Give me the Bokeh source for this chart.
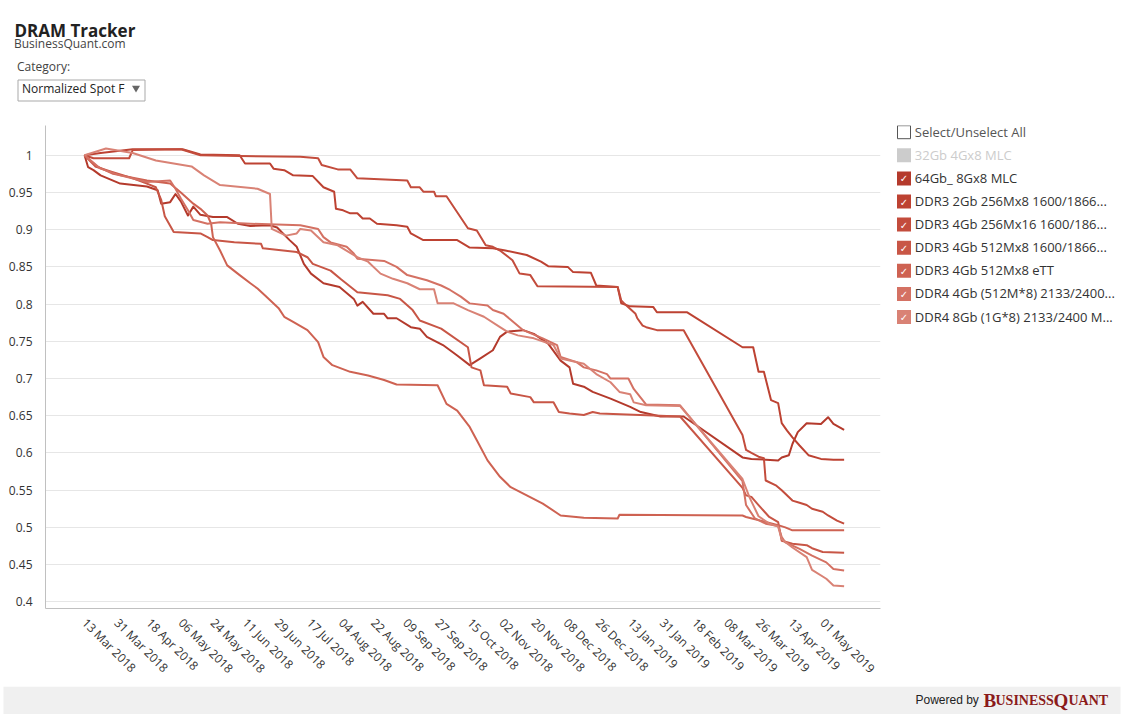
import pandas as pd
from bokeh.plotting import figure
from bokeh.layouts import column, row
from bokeh.models import (Range1d, FixedTicker, CustomJSTickFormatter,
                          NumeralTickFormatter, ColumnDataSource)
from bokeh.core.properties import value
from bokeh.embed import file_html
from bokeh.resources import INLINE

FONT = "Open Sans"

# ---------------- data ----------------
x_tick_labels = ["13 Mar 2018", "31 Mar 2018", "18 Apr 2018", "06 May 2018", "24 May 2018",
                 "11 Jun 2018", "29 Jun 2018", "17 Jul 2018", "04 Aug 2018", "22 Aug 2018",
                 "09 Sep 2018", "27 Sep 2018", "15 Oct 2018", "02 Nov 2018", "20 Nov 2018",
                 "08 Dec 2018", "26 Dec 2018", "13 Jan 2019", "31 Jan 2019", "18 Feb 2019",
                 "08 Mar 2019", "26 Mar 2019", "13 Apr 2019", "01 May 2019"]
y_ticks = [0.4, 0.45, 0.5, 0.55, 0.6, 0.65, 0.7, 0.75, 0.8, 0.85, 0.9, 0.95, 1.0]

legend_labels = ["32Gb 4Gx8 MLC", "64Gb_ 8Gx8 MLC", "DDR3 2Gb 256Mx8 1600/1866...",
                 "DDR3 4Gb 256Mx16 1600/186...", "DDR3 4Gb 512Mx8 1600/1866...",
                 "DDR3 4Gb 512Mx8 eTT", "DDR4 4Gb (512M*8) 2133/2400...",
                 "DDR4 8Gb (1G*8) 2133/2400 M..."]
legend_colors = ["#cccccc", "#b43a2c", "#bd4232", "#c34c3c", "#c85646",
                 "#ce6252", "#d47163", "#d98275"]
legend_checked = [False, True, True, True, True, True, True, True]

mlc_64gb = [
    ("2018-03-13", 1.000), ("2018-03-15", 0.984), ("2018-03-18", 0.980), ("2018-03-22", 0.973),
    ("2018-03-29", 0.966), ("2018-04-02", 0.962), ("2018-04-17", 0.958), ("2018-04-23", 0.953),
    ("2018-04-25", 0.935), ("2018-04-30", 0.937), ("2018-05-03", 0.948), ("2018-05-06", 0.938),
    ("2018-05-10", 0.919), ("2018-05-13", 0.931), ("2018-05-17", 0.920), ("2018-05-24", 0.917),
    ("2018-06-01", 0.917), ("2018-06-07", 0.908), ("2018-06-14", 0.905), ("2018-06-25", 0.906),
    ("2018-06-29", 0.903), ("2018-07-06", 0.886), ("2018-07-10", 0.877), ("2018-07-14", 0.854),
    ("2018-07-18", 0.841), ("2018-07-25", 0.828), ("2018-08-03", 0.823), ("2018-08-11", 0.807),
    ("2018-08-13", 0.798), ("2018-08-16", 0.803), ("2018-08-22", 0.787), ("2018-08-28", 0.787),
    ("2018-08-30", 0.781), ("2018-09-04", 0.781), ("2018-09-12", 0.769), ("2018-09-17", 0.767),
    ("2018-09-21", 0.756), ("2018-09-30", 0.745), ("2018-10-08", 0.731), ("2018-10-15", 0.718),
    ("2018-10-21", 0.727), ("2018-10-28", 0.738), ("2018-11-01", 0.756), ("2018-11-05", 0.763),
    ("2018-11-14", 0.765), ("2018-11-20", 0.760), ("2018-11-28", 0.747), ("2018-12-05", 0.724),
    ("2018-12-10", 0.715), ("2018-12-12", 0.693), ("2018-12-18", 0.689), ("2018-12-23", 0.682),
    ("2019-01-02", 0.673), ("2019-01-13", 0.662), ("2019-01-19", 0.655), ("2019-01-30", 0.649),
    ("2019-02-12", 0.649), ("2019-03-17", 0.594), ("2019-03-22", 0.592), ("2019-04-06", 0.590),
    ("2019-04-08", 0.594), ("2019-04-12", 0.597), ("2019-04-14", 0.612), ("2019-04-17", 0.628),
    ("2019-04-22", 0.640), ("2019-04-30", 0.639), ("2019-05-04", 0.648), ("2019-05-07", 0.639),
    ("2019-05-13", 0.631)]

ddr3_2gb_256x8 = [
    ("2018-03-13", 1.000), ("2018-03-22", 1.003), ("2018-04-09", 1.008), ("2018-05-07", 1.008),
    ("2018-05-17", 1.001), ("2018-06-08", 1.000), ("2018-06-11", 0.989), ("2018-06-25", 0.989),
    ("2018-06-27", 0.982), ("2018-07-03", 0.980), ("2018-07-08", 0.973), ("2018-07-19", 0.972),
    ("2018-07-25", 0.957), ("2018-07-31", 0.951), ("2018-08-01", 0.928), ("2018-08-05", 0.926),
    ("2018-08-09", 0.922), ("2018-08-13", 0.922), ("2018-08-16", 0.915), ("2018-08-20", 0.915),
    ("2018-08-24", 0.908), ("2018-09-04", 0.906), ("2018-09-10", 0.904), ("2018-09-12", 0.895),
    ("2018-09-19", 0.886), ("2018-10-08", 0.886), ("2018-10-15", 0.876), ("2018-10-28", 0.875),
    ("2018-11-04", 0.872), ("2018-11-16", 0.866), ("2018-11-24", 0.857), ("2018-11-28", 0.851),
    ("2018-12-09", 0.850), ("2018-12-12", 0.843), ("2018-12-22", 0.842), ("2018-12-25", 0.825),
    ("2019-01-06", 0.823), ("2019-01-08", 0.801), ("2019-01-13", 0.797), ("2019-01-26", 0.796),
    ("2019-01-28", 0.789), ("2019-02-14", 0.789), ("2019-03-17", 0.742), ("2019-03-23", 0.742),
    ("2019-03-26", 0.709), ("2019-03-29", 0.709), ("2019-04-02", 0.671), ("2019-04-06", 0.667),
    ("2019-04-08", 0.640), ("2019-04-11", 0.630), ("2019-04-14", 0.621), ("2019-04-18", 0.610),
    ("2019-04-23", 0.597), ("2019-04-30", 0.592), ("2019-05-07", 0.591), ("2019-05-13", 0.591)]

ddr3_4gb_256x16 = [
    ("2018-03-13", 1.000), ("2018-03-18", 0.996), ("2018-04-07", 0.996), ("2018-04-09", 1.007),
    ("2018-05-06", 1.008), ("2018-05-17", 1.000), ("2018-06-08", 0.999), ("2018-07-12", 0.998),
    ("2018-07-22", 0.996), ("2018-07-24", 0.987), ("2018-08-02", 0.981), ("2018-08-09", 0.981),
    ("2018-08-13", 0.969), ("2018-09-10", 0.966), ("2018-09-12", 0.957), ("2018-09-17", 0.957),
    ("2018-09-19", 0.951), ("2018-09-25", 0.951), ("2018-09-26", 0.945), ("2018-10-02", 0.945),
    ("2018-10-14", 0.902), ("2018-10-19", 0.899), ("2018-10-24", 0.879), ("2018-10-28", 0.877),
    ("2018-11-01", 0.872), ("2018-11-08", 0.859), ("2018-11-12", 0.841), ("2018-11-18", 0.839),
    ("2018-11-22", 0.824), ("2019-01-06", 0.823), ("2019-01-08", 0.805), ("2019-01-10", 0.800),
    ("2019-01-16", 0.787), ("2019-01-17", 0.781), ("2019-01-20", 0.771), ("2019-01-22", 0.769),
    ("2019-01-28", 0.765), ("2019-02-12", 0.765), ("2019-03-17", 0.624), ("2019-03-19", 0.604),
    ("2019-03-22", 0.600), ("2019-03-26", 0.595), ("2019-03-29", 0.593), ("2019-03-30", 0.563),
    ("2019-04-05", 0.556), ("2019-04-08", 0.550), ("2019-04-14", 0.536), ("2019-04-18", 0.533),
    ("2019-04-22", 0.530), ("2019-04-25", 0.525), ("2019-05-01", 0.521), ("2019-05-04", 0.516),
    ("2019-05-09", 0.509), ("2019-05-13", 0.505)]

ddr3_4gb_512x8 = [
    ("2018-03-13", 1.000), ("2018-03-19", 0.985), ("2018-03-28", 0.978), ("2018-04-08", 0.970),
    ("2018-04-17", 0.962), ("2018-04-22", 0.957), ("2018-04-25", 0.940), ("2018-04-27", 0.918),
    ("2018-05-02", 0.897), ("2018-05-17", 0.895), ("2018-05-21", 0.890), ("2018-05-24", 0.886),
    ("2018-06-05", 0.883), ("2018-06-20", 0.881), ("2018-06-21", 0.875), ("2018-07-10", 0.870),
    ("2018-07-16", 0.863), ("2018-07-19", 0.854), ("2018-07-29", 0.845), ("2018-08-04", 0.833),
    ("2018-08-13", 0.816), ("2018-08-30", 0.812), ("2018-09-06", 0.807), ("2018-09-13", 0.792),
    ("2018-09-17", 0.778), ("2018-09-29", 0.767), ("2018-10-14", 0.742), ("2018-10-16", 0.715),
    ("2018-10-21", 0.711), ("2018-10-23", 0.691), ("2018-11-05", 0.689), ("2018-11-07", 0.680),
    ("2018-11-18", 0.675), ("2018-11-20", 0.668), ("2018-12-01", 0.668), ("2018-12-04", 0.655),
    ("2018-12-10", 0.653), ("2018-12-18", 0.651), ("2018-12-23", 0.655), ("2018-12-27", 0.653),
    ("2019-02-10", 0.649), ("2019-03-17", 0.553), ("2019-03-19", 0.543), ("2019-03-22", 0.541),
    ("2019-03-26", 0.530), ("2019-04-01", 0.514), ("2019-04-06", 0.507), ("2019-04-08", 0.482),
    ("2019-04-14", 0.478), ("2019-04-22", 0.476), ("2019-04-25", 0.472), ("2019-05-01", 0.467),
    ("2019-05-13", 0.466)]

ddr3_4gb_ett = [
    ("2018-03-13", 1.000), ("2018-03-20", 0.985), ("2018-03-29", 0.975), ("2018-04-17", 0.966),
    ("2018-04-30", 0.962), ("2018-05-06", 0.950), ("2018-05-13", 0.935), ("2018-05-17", 0.928),
    ("2018-05-21", 0.919), ("2018-05-23", 0.908), ("2018-05-24", 0.890), ("2018-05-28", 0.872),
    ("2018-06-01", 0.852), ("2018-06-08", 0.839), ("2018-06-14", 0.828), ("2018-06-18", 0.821),
    ("2018-06-23", 0.810), ("2018-06-30", 0.794), ("2018-07-03", 0.783), ("2018-07-08", 0.776),
    ("2018-07-16", 0.765), ("2018-07-22", 0.749), ("2018-07-25", 0.729), ("2018-07-30", 0.718),
    ("2018-08-09", 0.709), ("2018-08-19", 0.704), ("2018-08-28", 0.698), ("2018-09-04", 0.692),
    ("2018-09-27", 0.691), ("2018-10-02", 0.666), ("2018-10-08", 0.657), ("2018-10-15", 0.635),
    ("2018-10-19", 0.617), ("2018-10-25", 0.590), ("2018-11-01", 0.568), ("2018-11-07", 0.554),
    ("2018-11-16", 0.543), ("2018-11-25", 0.532), ("2018-12-05", 0.516), ("2018-12-18", 0.513),
    ("2019-01-06", 0.512), ("2019-01-07", 0.517), ("2019-03-17", 0.516), ("2019-03-19", 0.514),
    ("2019-04-06", 0.503), ("2019-04-10", 0.500), ("2019-04-14", 0.496), ("2019-05-13", 0.496)]

ddr4_4gb = [
    ("2018-03-13", 1.000), ("2018-03-22", 0.982), ("2018-04-02", 0.973), ("2018-04-17", 0.964),
    ("2018-04-30", 0.966), ("2018-05-03", 0.955), ("2018-05-06", 0.942), ("2018-05-10", 0.926),
    ("2018-05-13", 0.913), ("2018-05-21", 0.908), ("2018-05-28", 0.910), ("2018-06-14", 0.908),
    ("2018-07-12", 0.906), ("2018-07-22", 0.901), ("2018-07-25", 0.890), ("2018-07-29", 0.883),
    ("2018-08-07", 0.877), ("2018-08-11", 0.868), ("2018-08-13", 0.861), ("2018-08-28", 0.858),
    ("2018-09-04", 0.850), ("2018-09-10", 0.839), ("2018-09-21", 0.832), ("2018-09-29", 0.825),
    ("2018-10-04", 0.819), ("2018-10-10", 0.810), ("2018-10-15", 0.801), ("2018-10-25", 0.798),
    ("2018-10-28", 0.792), ("2018-11-03", 0.787), ("2018-11-07", 0.779), ("2018-11-14", 0.765),
    ("2018-11-25", 0.754), ("2018-12-03", 0.745), ("2018-12-05", 0.729), ("2018-12-14", 0.722),
    ("2018-12-18", 0.715), ("2018-12-25", 0.711), ("2018-12-31", 0.706), ("2019-01-02", 0.700),
    ("2019-01-12", 0.700), ("2019-01-15", 0.686), ("2019-01-22", 0.665), ("2019-02-10", 0.664),
    ("2019-03-17", 0.562), ("2019-03-19", 0.530), ("2019-03-24", 0.512), ("2019-03-30", 0.505),
    ("2019-04-06", 0.502), ("2019-04-08", 0.487), ("2019-04-10", 0.480), ("2019-04-18", 0.471),
    ("2019-04-25", 0.462), ("2019-05-03", 0.453), ("2019-05-07", 0.444), ("2019-05-13", 0.442)]

ddr4_8gb = [
    ("2018-03-13", 1.000), ("2018-03-25", 1.009), ("2018-04-09", 1.003), ("2018-04-22", 0.993),
    ("2018-05-12", 0.985), ("2018-05-19", 0.973), ("2018-05-28", 0.960), ("2018-06-18", 0.955),
    ("2018-06-25", 0.948), ("2018-06-26", 0.901), ("2018-07-04", 0.892), ("2018-07-10", 0.895),
    ("2018-07-12", 0.901), ("2018-07-18", 0.899), ("2018-07-25", 0.883), ("2018-08-02", 0.879),
    ("2018-08-13", 0.863), ("2018-08-19", 0.857), ("2018-08-26", 0.841), ("2018-09-02", 0.834),
    ("2018-09-10", 0.828), ("2018-09-17", 0.820), ("2018-09-25", 0.820), ("2018-09-27", 0.801),
    ("2018-10-06", 0.801), ("2018-10-14", 0.792), ("2018-10-23", 0.783), ("2018-11-01", 0.769),
    ("2018-11-05", 0.763), ("2018-11-11", 0.758), ("2018-11-20", 0.754), ("2018-12-01", 0.745),
    ("2018-12-05", 0.727), ("2018-12-18", 0.720), ("2018-12-25", 0.706), ("2019-01-02", 0.695),
    ("2019-01-07", 0.682), ("2019-01-13", 0.679), ("2019-01-15", 0.668), ("2019-01-22", 0.664),
    ("2019-02-10", 0.663), ("2019-03-17", 0.565), ("2019-03-21", 0.540), ("2019-03-26", 0.515),
    ("2019-04-01", 0.505), ("2019-04-06", 0.501), ("2019-04-08", 0.484), ("2019-04-14", 0.473),
    ("2019-04-22", 0.460), ("2019-04-25", 0.443), ("2019-05-03", 0.431), ("2019-05-07", 0.422),
    ("2019-05-13", 0.421)]

# series drawn in legend order (index into legend lists); 32Gb is hidden
series = [(1, mlc_64gb), (2, ddr3_2gb_256x8), (3, ddr3_4gb_256x16), (4, ddr3_4gb_512x8),
          (5, ddr3_4gb_ett), (6, ddr4_4gb), (7, ddr4_8gb)]

# ---------------- page geometry (screen pixels) ----------------
PAGE_W = 1123
TOP_H = 110
MID_H = 576
BOT_H = 28
MAIN_W = 890
LEG_W = PAGE_W - MAIN_W
FRAME_TOP, FRAME_BOTTOM = 15, 78          # borders of the plot frame inside MID row
BL = -5                                   # baseline correction for SVG text

# ---------------- main chart ----------------
tick_dates = pd.to_datetime(x_tick_labels, format="%d %b %Y")
tick_ms = [float(t.value // 10**6) for t in tick_dates]
start = tick_dates[0]
x_range = Range1d(start - pd.Timedelta(days=21.9), start + pd.Timedelta(days=446.4))

main = figure(width=MAIN_W, height=MID_H, x_axis_type="datetime", x_range=x_range,
              y_range=Range1d(0.391, 1.040), output_backend="svg", toolbar_location=None,
              min_border_left=45, min_border_right=10,
              min_border_top=FRAME_TOP, min_border_bottom=FRAME_BOTTOM)
main.outline_line_color = None
main.xgrid.visible = False
main.ygrid.ticker = FixedTicker(ticks=y_ticks)
main.ygrid.grid_line_color = "#e6e6e6"

xa = main.xaxis[0]
xa.ticker = FixedTicker(ticks=tick_ms)
xa.formatter = CustomJSTickFormatter(args=dict(tick_vals=tick_ms, tick_text=x_tick_labels),
                                     code="const i = tick_vals.indexOf(tick); return i >= 0 ? tick_text[i] : '';")
xa.major_label_orientation = -0.7854
xa.major_tick_line_color = None
xa.minor_tick_line_color = None
xa.axis_line_color = "#c0c0c0"
xa.major_label_text_font = FONT
xa.major_label_text_font_size = "12px"
xa.major_label_text_color = "#333333"
xa.major_label_standoff = 6

ya = main.yaxis[0]
ya.ticker = FixedTicker(ticks=y_ticks)
ya.formatter = NumeralTickFormatter(format="0.[00]")
ya.major_tick_line_color = None
ya.minor_tick_line_color = None
ya.axis_line_color = "#c0c0c0"
ya.major_label_text_font = FONT
ya.major_label_text_font_size = "12px"
ya.major_label_text_color = "#333333"
ya.major_label_standoff = 7

for idx, pts in series:
    src = ColumnDataSource(dict(date=pd.to_datetime([d for d, _ in pts]),
                                val=[v for _, v in pts]))
    main.line(x="date", y="val", source=src, line_color=legend_colors[idx],
              line_width=2, line_join="round")


# ---------------- decoration panels in screen coordinates ----------------
def panel(w, h, x0, y0, border_top=0, border_bottom=0):
    fy0 = y0 + border_top
    fy1 = y0 + h - border_bottom
    f = figure(width=w, height=h, x_range=Range1d(x0, x0 + w), y_range=Range1d(fy1, fy0),
               x_axis_type=None, y_axis_type=None, output_backend="svg",
               toolbar_location=None, min_border=0,
               min_border_top=border_top, min_border_bottom=border_bottom)
    f.outline_line_color = None
    f.grid.visible = False
    return f


def txt(f, x, y, s, size, color, bold=False, font=FONT, align="left", baseline="alphabetic"):
    f.text(x=[x], y=[y], text=[s], text_font=value(font), text_font_size=size,
           text_color=color, text_font_style="bold" if bold else "normal",
           text_align=align, text_baseline=baseline)


# top: title and dropdown
top = panel(PAGE_W, TOP_H, 0, 0)
txt(top, 14, 35 + BL, "DRAM Tracker", "17px", "#222222", bold=True)
txt(top, 13.5, 47.5 + BL, "BusinessQuant.com", "12px", "#444444")
txt(top, 16.5, 70.7 + BL, "Category:", "12px", "#444444")
top.quad(left=[17.5], right=[144.5], top=[79.5], bottom=[100.5], fill_color="white",
         line_color="#a9a9a9", line_width=1)
txt(top, 21.5, 92.7 + BL, "Normalized Spot F", "12px", "#222222")
top.scatter(x=[135.5], y=[87.5], marker="inverted_triangle", size=8,
            fill_color="#666666", line_color=None)

# legend (frame aligned with the chart frame)
leg = panel(LEG_W, MID_H, MAIN_W, TOP_H, FRAME_TOP, FRAME_BOTTOM)
row_y0, row_dy = 131.7, 23.1
box_x, text_x = 903.5, 914.3
leg.rect(x=[box_x], y=[row_y0], width=13, height=13, fill_color=None,
         line_color="#555555", line_width=1)
txt(leg, text_x, row_y0 + 4.5 + BL, "Select/Unselect All", "13px", "#555555")
for i, (lab, col, chk) in enumerate(zip(legend_labels, legend_colors, legend_checked)):
    yc = row_y0 + row_dy * (i + 1)
    leg.rect(x=[box_x], y=[yc], width=14, height=14, fill_color=col, line_color=None)
    if chk:
        txt(leg, box_x, yc + 0.5, "\u2713", "10px", "white", font="DejaVu Sans",
            align="center", baseline="middle")
    txt(leg, text_x, yc + 4.5 + BL, lab, "13px", "#333333" if chk else "#cccccc")

# bottom bar
bot = panel(PAGE_W, BOT_H, 0, TOP_H + MID_H)
bot.quad(left=[3], right=[1120], top=[686], bottom=[714], fill_color="#f0f0f0", line_color=None)
txt(bot, 915, 704 + BL, "Powered by", "12px", "#222222", font="Liberation Sans")
txt(bot, 983, 705 + BL, "B", "19px", "#8a1a1a", bold=True, font="Liberation Serif")
txt(bot, 995, 705 + BL, "USINESS", "14px", "#8a1a1a", bold=True, font="Liberation Serif")
txt(bot, 1053, 705 + BL, "Q", "19px", "#8a1a1a", bold=True, font="Liberation Serif")
txt(bot, 1068, 705 + BL, "UANT", "14px", "#8a1a1a", bold=True, font="Liberation Serif")

layout = column(top, row(main, leg), bot)
open("out.html", "w").write(file_html(layout, INLINE))
